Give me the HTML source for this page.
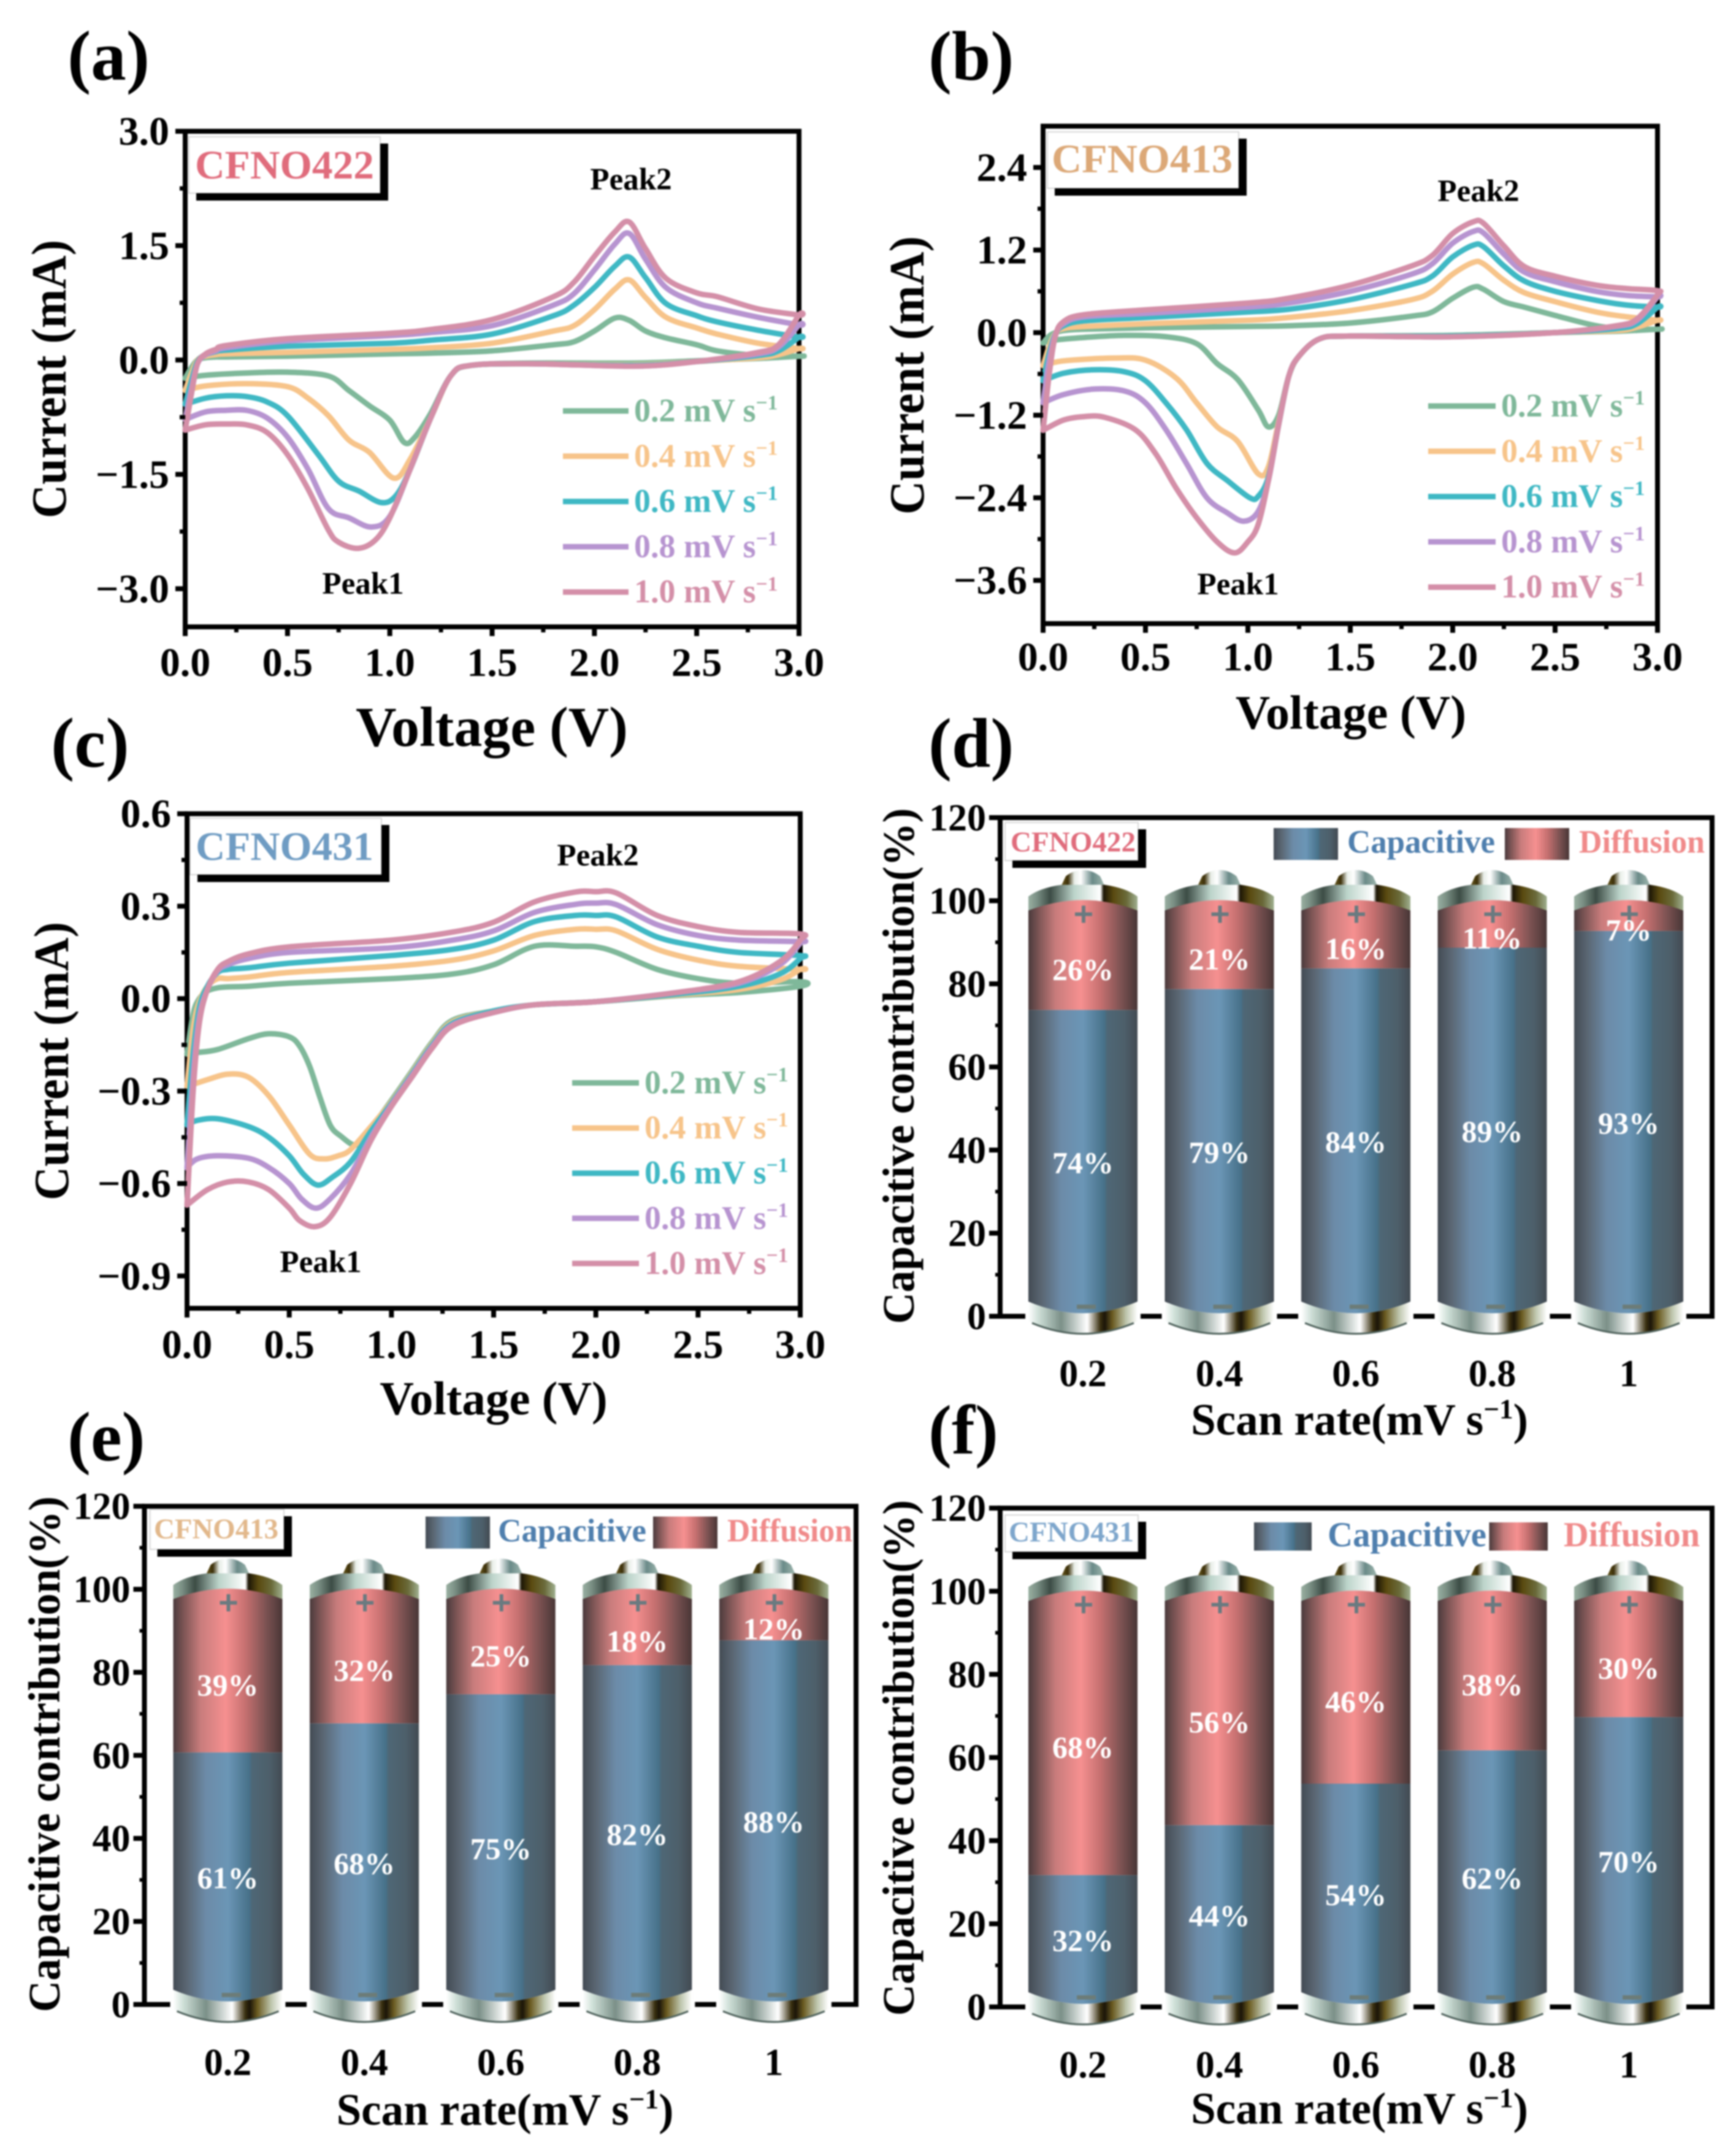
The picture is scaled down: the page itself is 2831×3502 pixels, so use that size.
<!DOCTYPE html>
<html lang="en">
<head>
<meta charset="utf-8">
<title>CFNO cyclic voltammetry and capacitive contribution</title>
<style>
html,body{margin:0;padding:0;background:#fff;}
svg{display:block;filter:blur(1.4px);}
text{font-family:"Liberation Serif",serif;font-weight:bold;}
</style>
</head>
<body>
<svg id="figure" xmlns="http://www.w3.org/2000/svg" width="2831" height="3502" viewBox="0 0 2831 3502">
<defs>
<linearGradient id="gBlue"><stop offset="0" stop-color="#434b54"/><stop offset=".12" stop-color="#5a6672"/><stop offset=".3" stop-color="#6c8ba8"/><stop offset=".5" stop-color="#6b96b6"/><stop offset=".7" stop-color="#467088"/><stop offset=".72" stop-color="#4e6776"/><stop offset=".88" stop-color="#4d5f6a"/><stop offset="1" stop-color="#424a52"/></linearGradient>
<linearGradient id="gRed"><stop offset="0" stop-color="#4a3a3c"/><stop offset=".1" stop-color="#7f5656"/><stop offset=".25" stop-color="#c87c7c"/><stop offset=".48" stop-color="#f69090"/><stop offset=".66" stop-color="#c67070"/><stop offset=".85" stop-color="#7c5252"/><stop offset="1" stop-color="#483636"/></linearGradient>
<linearGradient id="gCap"><stop offset="0" stop-color="#9ab0a2"/><stop offset=".08" stop-color="#7a8f84"/><stop offset=".2" stop-color="#3c4c45"/><stop offset=".42" stop-color="#bcd4ca"/><stop offset=".66" stop-color="#ffffff"/><stop offset=".69" stop-color="#1c1606"/><stop offset=".78" stop-color="#5a4a10"/><stop offset=".9" stop-color="#6a6a3a"/><stop offset="1" stop-color="#a0b090"/></linearGradient>
<linearGradient id="gNipple"><stop offset="0" stop-color="#6a5a20"/><stop offset=".15" stop-color="#3b2f08"/><stop offset=".3" stop-color="#e8eee8"/><stop offset=".45" stop-color="#ffffff"/><stop offset=".72" stop-color="#6a8a88"/><stop offset="1" stop-color="#a0b8b0"/></linearGradient>
<linearGradient id="gBase"><stop offset="0" stop-color="#ffffff"/><stop offset=".09" stop-color="#cfe0d8"/><stop offset=".3" stop-color="#7b9088"/><stop offset=".54" stop-color="#ffffff"/><stop offset=".66" stop-color="#3a3010"/><stop offset=".7" stop-color="#1a1408"/><stop offset=".77" stop-color="#6a5a20"/><stop offset=".9" stop-color="#c0c8b0"/><stop offset="1" stop-color="#ffffff"/></linearGradient>
</defs>
</svg>
<script>
// ---------- Shared chart labels ----------
const rateLabels = ['0.2', '0.4', '0.6', '0.8', '1.0'];
const lineColors = ['#7fb89a', '#f7c48a', '#3fb8c4', '#b794d0', '#d48fa8'];
const voltageTicks = [0, 0.5, 1, 1.5, 2, 2.5, 3];

// ---------- Panel (a) CFNO422 ----------
const currentTicksA = [3, 1.5, 0, -1.5, -3];
const anodicVoltsA = [0,.03,.06,.1,.15,.2,.5,1,1.2,1.5,1.8,1.9,2,2.1,2.17,2.25,2.35,2.5,2.6,2.8,3];
const anodicA02 = [-.24,-.1,0,.03,.04,.04,.05,.08,.09,.12,.2,.24,.38,.55,.52,.38,.29,.2,.12,.06,.05];
const anodicA04 = [-.4,-.18,0,.05,.07,.08,.1,.14,.16,.22,.38,.45,.66,.93,1.05,.82,.56,.42,.34,.22,.15];
const anodicA06 = [-.58,-.28,-.02,.07,.11,.13,.18,.22,.26,.34,.58,.72,.95,1.23,1.35,1.08,.74,.58,.5,.39,.3];
const anodicA08 = [-.78,-.38,-.05,.07,.12,.16,.25,.32,.36,.45,.72,.87,1.18,1.52,1.66,1.32,.95,.75,.68,.56,.46];
const anodicA10 = [-.92,-.45,-.05,.08,.14,.19,.28,.35,.4,.53,.83,1.02,1.36,1.68,1.81,1.46,1.07,.88,.83,.67,.59];
const cathodicVoltsA02 = [3,2.8,2.5,2.2,1.7,1.4,1.3,1.2,1.12,1.07,1,.9,.8,.7,.5,.3,.1,0];
const cathodicA02 = [.05,.02,-.01,-.04,-.04,-.07,-.2,-.7,-1.02,-1.08,-.79,-.6,-.4,-.21,-.16,-.17,-.2,-.24];
const cathodicVoltsA04 = [3,2.9,2.8,2.5,2.2,1.7,1.4,1.3,1.2,1.1,1.02,.9,.8,.7,.6,.5,.3,.1,0];
const cathodicA04 = [.15,.07,.03,-.02,-.06,-.05,-.07,-.2,-.76,-1.3,-1.55,-1.21,-1.05,-.73,-.5,-.35,-.31,-.34,-.4];
const cathodicVoltsA06 = [3,2.9,2.8,2.5,2.2,1.7,1.4,1.3,1.2,1.1,1.03,.958,.85,.75,.65,.5,.4,.3,.2,.1,0];
const cathodicA06 = [.3,.12,.06,-.02,-.07,-.05,-.07,-.2,-.76,-1.43,-1.78,-1.87,-1.72,-1.59,-1.24,-.73,-.55,-.48,-.47,-.5,-.58];
const cathodicVoltsA08 = [3,2.9,2.8,2.5,2.2,1.7,1.4,1.3,1.2,1.1,1,.91,.8,.7,.6,.5,.4,.3,.2,.1,0];
const cathodicA08 = [.46,.17,.08,-.02,-.08,-.05,-.07,-.2,-.76,-1.43,-2.05,-2.19,-2.07,-1.95,-1.43,-1.01,-.76,-.66,-.66,-.68,-.78];
const cathodicVoltsA10 = [3,2.9,2.8,2.5,2.2,1.7,1.4,1.3,1.2,1.1,1,.93,.845,.75,.7,.6,.5,.4,.3,.2,.1,0];
const cathodicA10 = [.59,.2,.1,-.02,-.08,-.05,-.07,-.2,-.76,-1.43,-2.07,-2.36,-2.47,-2.39,-2.23,-1.69,-1.24,-.95,-.85,-.84,-.85,-.92];

// ---------- Panel (b) CFNO413 ----------
const currentTicksB = [2.4, 1.2, 0, -1.2, -2.4, -3.6];
const anodicVoltsB = [0,.03,.06,.1,.2,.5,1,1.2,1.5,1.8,1.9,2,2.1,2.15,2.25,2.35,2.5,2.7,2.85,3];
const anodicB02 = [-.15,-.05,0,.03,.05,.07,.09,.1,.14,.24,.3,.5,.66,.63,.45,.37,.25,.1,.05,.05];
const anodicB04 = [-.48,-.2,-.01,.06,.09,.13,.18,.22,.32,.48,.6,.85,1.02,1,.76,.58,.45,.3,.23,.18];
const anodicB06 = [-.7,-.3,-.02,.1,.17,.22,.3,.34,.48,.7,.82,1.1,1.27,1.25,.97,.75,.6,.47,.4,.37];
const anodicB08 = [-1.02,-.4,-.03,.13,.23,.28,.37,.43,.6,.85,1,1.3,1.47,1.45,1.14,.88,.74,.6,.54,.52];
const anodicB10 = [-1.42,-.6,-.05,.16,.26,.33,.43,.5,.69,.97,1.12,1.44,1.61,1.59,1.26,.96,.82,.69,.64,.61];
const cathodicVoltsB02 = [3,2.8,2.5,2,1.5,1.35,1.25,1.2,1.15,1.1,1.05,.95,.85,.75,.6,.4,.2,.05,0];
const cathodicB02 = [.05,.02,0,-.04,-.05,-.09,-.34,-.63,-1.2,-1.37,-1.12,-.68,-.45,-.16,-.06,-.04,-.07,-.11,-.15];
const cathodicVoltsB04 = [3,2.9,2.8,2.5,2,1.5,1.35,1.25,1.2,1.15,1.1,1.05,.95,.85,.75,.65,.5,.35,.1,0];
const cathodicB04 = [.18,.08,.03,0,-.05,-.05,-.09,-.34,-.63,-1.3,-1.95,-2.05,-1.58,-1.37,-1.02,-.66,-.4,-.37,-.41,-.48];
const cathodicVoltsB06 = [3,2.9,2.8,2.5,2,1.5,1.35,1.25,1.2,1.15,1.1,1.05,1.01,.9,.8,.7,.6,.5,.4,.25,.1,0];
const cathodicB06 = [.37,.13,.06,0,-.05,-.05,-.09,-.34,-.63,-1.34,-2.1,-2.38,-2.4,-2.15,-1.9,-1.41,-1.02,-.7,-.57,-.54,-.59,-.7];
const cathodicVoltsB08 = [3,2.9,2.8,2.5,2,1.5,1.35,1.25,1.2,1.15,1.1,1.05,.98,.9,.8,.7,.6,.5,.4,.25,.1,0];
const cathodicB08 = [.52,.18,.09,0,-.06,-.05,-.09,-.34,-.63,-1.34,-2.15,-2.6,-2.74,-2.62,-2.4,-1.9,-1.41,-1.02,-.85,-.82,-.9,-1.02];
const cathodicVoltsB10 = [3,2.9,2.8,2.5,2,1.5,1.35,1.25,1.2,1.15,1.1,1.05,1,.935,.85,.75,.65,.55,.45,.3,.2,.1,0];
const cathodicB10 = [.55,.2,.1,0,-.06,-.05,-.09,-.34,-.63,-1.34,-2.15,-2.79,-3.04,-3.2,-3.04,-2.69,-2.26,-1.76,-1.41,-1.23,-1.22,-1.27,-1.42];

// ---------- Panel (c) CFNO431 ----------
const currentTicksC = [.6, .3, 0, -.3, -.6, -.9];
const anodicVoltsC = [0,.03,.06,.1,.15,.2,.3,.5,1,1.3,1.5,1.7,1.9,2,2.1,2.3,2.5,2.7,3];
const anodicC02 = [-.18,-.05,0,.025,.035,.038,.04,.05,.065,.08,.11,.17,.17,.168,.15,.095,.065,.05,.055];
const anodicC04 = [-.285,-.1,-.01,.04,.065,.065,.07,.085,.105,.125,.155,.205,.225,.225,.22,.16,.125,.105,.095];
const anodicC06 = [-.41,-.18,-.03,.04,.085,.095,.1,.115,.14,.16,.19,.25,.27,.27,.265,.2,.17,.15,.14];
const anodicC08 = [-.55,-.25,-.06,.03,.09,.11,.13,.15,.165,.19,.22,.28,.306,.31,.305,.24,.205,.19,.185];
const anodicC10 = [-.67,-.3,-.08,.03,.095,.12,.145,.168,.19,.216,.248,.314,.346,.347,.343,.27,.234,.215,.21];
const cathodicVoltsC02 = [3,2.7,2.4,2,1.7,1.5,1.3,1.2,1.1,1,.9,.83,.75,.7,.65,.6,.55,.5,.4,.3,.15,.05,0];
const cathodicC02 = [.04,.02,.01,-.01,-.02,-.04,-.07,-.14,-.235,-.33,-.42,-.475,-.445,-.41,-.32,-.22,-.153,-.124,-.114,-.13,-.165,-.175,-.18];
const cathodicVoltsC04 = [3,2.9,2.7,2.4,2,1.7,1.5,1.3,1.2,1.1,1,.9,.8,.74,.67,.6,.5,.4,.3,.2,.1,0];
const cathodicC04 = [.095,.06,.03,.012,-.01,-.02,-.04,-.075,-.145,-.24,-.335,-.415,-.49,-.51,-.52,-.505,-.41,-.315,-.255,-.245,-.263,-.285];
const cathodicVoltsC06 = [3,2.9,2.7,2.4,2,1.7,1.5,1.3,1.2,1.1,1,.9,.8,.71,.64,.57,.5,.4,.3,.15,.05,0];
const cathodicC06 = [.13,.08,.04,.015,-.01,-.02,-.04,-.08,-.15,-.245,-.34,-.43,-.53,-.58,-.605,-.57,-.51,-.45,-.415,-.39,-.395,-.41];
const cathodicVoltsC08 = [3,2.9,2.7,2.4,2,1.7,1.5,1.3,1.2,1.1,1,.9,.8,.7,.63,.56,.5,.4,.3,.15,.05,0];
const cathodicC08 = [.18,.11,.05,.02,-.01,-.02,-.045,-.085,-.155,-.25,-.345,-.45,-.57,-.65,-.68,-.65,-.6,-.548,-.518,-.51,-.52,-.548];
const cathodicVoltsC10 = [3,2.9,2.7,2.4,2,1.7,1.5,1.3,1.2,1.1,1,.9,.8,.7,.625,.55,.5,.4,.3,.2,.1,0];
const cathodicC10 = [.19,.12,.055,.02,-.01,-.02,-.045,-.088,-.16,-.255,-.35,-.46,-.6,-.71,-.74,-.72,-.68,-.62,-.595,-.595,-.62,-.67];

// ---------- Panels (d)(e)(f) battery bars ----------
const scanRates = ['0.2', '0.4', '0.6', '0.8', '1'];
const contributionTicks = [120, 100, 80, 60, 40, 20, 0];
const capacitiveD = [74, 79, 84, 89, 93];
const diffusionD = [26, 21, 16, 11, 7];
const capacitiveE = [61, 68, 75, 82, 88];
const diffusionE = [39, 32, 25, 18, 12];
const capacitiveF = [32, 44, 54, 62, 70];
const diffusionF = [68, 56, 46, 38, 30];

const NS = 'http://www.w3.org/2000/svg';
const root = document.getElementById('figure');

function make(tag, attrs, parent, content) {
  const node = document.createElementNS(NS, tag);
  for (const k in attrs) node.setAttribute(k, attrs[k]);
  if (content !== undefined) node.textContent = content;
  parent.appendChild(node);
  return node;
}
function group(parent) {
  return make('g', {}, parent);
}
function fmtTick(v) {
  const s = Math.abs(v).toFixed(1);
  return v < 0 ? '\u2212' + s : s;
}
function smoothPath(points) {
  let d = 'M' + points[0][0].toFixed(1) + ' ' + points[0][1].toFixed(1);
  for (let i = 0; i < points.length - 1; i++) {
    const p0 = points[Math.max(i - 1, 0)], p1 = points[i], p2 = points[i + 1], p3 = points[Math.min(i + 2, points.length - 1)];
    const t = 0.167;
    const c1x = p1[0] + (p2[0] - p0[0]) * t, c1y = p1[1] + (p2[1] - p0[1]) * t;
    const c2x = p2[0] - (p3[0] - p1[0]) * t, c2y = p2[1] - (p3[1] - p1[1]) * t;
    d += 'C' + c1x.toFixed(1) + ' ' + c1y.toFixed(1) + ' ' + c2x.toFixed(1) + ' ' + c2y.toFixed(1) + ' ' + p2[0].toFixed(1) + ' ' + p2[1].toFixed(1);
  }
  return d;
}

// Text with a trailing "s^-1" superscript
function rateText(parent, x, y, size, fill, anchor, prefix, closer) {
  const t = make('text', { x: x, y: y, 'font-size': size, fill: fill, 'text-anchor': anchor }, parent);
  make('tspan', {}, t, prefix + 's');
  make('tspan', { dy: -size * 0.36, 'font-size': size * 0.62 }, t, '\u22121');
  if (closer) make('tspan', { dy: size * 0.36 }, t, closer);
  return t;
}

function panelLetter(letter, x, y, size) {
  const t = make('text', { x: x, y: y, 'font-size': size, fill: '#000' }, root, '(' + letter + ')');
  
  
}

function sampleBadge(g, b) {
  const white = make('rect', { x: b.x0, y: b.y0, width: b.x1 - b.x0, height: b.y1 - b.y0, fill: '#fff', stroke: '#d8d8d8', 'stroke-width': 2 }, g);
  
  
  const sh1 = make('rect', { x: b.x1, y: b.y0 + 11, width: 13, height: b.y1 - b.y0, fill: '#000' }, g);
  
  
  const sh2 = make('rect', { x: b.x0 + 12, y: b.y1, width: b.x1 - b.x0 + 1, height: 12, fill: '#000' }, g);
  
  
  const txt = make('text', { x: b.tx, y: b.ty, 'font-size': b.size, fill: b.color, textLength: b.tw, lengthAdjust: 'spacingAndGlyphs' }, g, b.label);
  
  
}

// ---------- CV panel ----------
function drawCV(p) {
  const g = group(root);
  
  
  const xAxis = v => p.left + (v / 3) * (p.right - p.left);
  const yAxis = i => p.top + (p.yMax - i) / (p.yMax - p.yMin) * (p.bottom - p.top);

  const frame = make('rect', { x: p.left, y: p.top, width: p.right - p.left, height: p.bottom - p.top, fill: '#fff', stroke: '#000', 'stroke-width': 8 }, g);
  
  

  // curves
  p.series.forEach((s, idx) => {
    const pts = [];
    s.upI.forEach((c, i) => pts.push([xAxis(p.upV[i]), yAxis(c)]));
    s.downI.forEach((c, i) => pts.push([xAxis(s.downV[i]), yAxis(c)]));
    const path = make('path', { d: smoothPath(pts), fill: 'none', stroke: lineColors[idx], 'stroke-width': 9, 'stroke-linejoin': 'round', 'stroke-linecap': 'round' }, g);
    
    
  });

  // x ticks
  voltageTicks.forEach(v => {
    const tk = make('line', { x1: xAxis(v), x2: xAxis(v), y1: p.bottom, y2: p.bottom + 15, stroke: '#000', 'stroke-width': 8 }, g);
    
    
    const lb = make('text', { x: xAxis(v), y: p.xTickY, 'font-size': 66, 'text-anchor': 'middle', fill: '#000' }, g, v.toFixed(1));
    
    
    if (v < 3) {
      const mn = make('line', { x1: xAxis(v + .25), x2: xAxis(v + .25), y1: p.bottom, y2: p.bottom + 9, stroke: '#000', 'stroke-width': 7 }, g);
      
      
    }
  });

  // y ticks
  p.yTicks.forEach((v, i) => {
    const tk = make('line', { x1: p.left - 16, x2: p.left, y1: yAxis(v), y2: yAxis(v), stroke: '#000', 'stroke-width': 8 }, g);
    
    
    const lb = make('text', { x: p.left - 26, y: yAxis(v) + 22, 'font-size': 66, 'text-anchor': 'end', fill: '#000' }, g, fmtTick(v));
    
    
    if (i < p.yTicks.length - 1) {
      const m = (v + p.yTicks[i + 1]) / 2;
      const mn = make('line', { x1: p.left - 9, x2: p.left, y1: yAxis(m), y2: yAxis(m), stroke: '#000', 'stroke-width': 7 }, g);
      
      
    }
  });

  const xt = make('text', { x: p.xTitle[0], y: p.xTitle[1], 'font-size': p.xTitle[2], 'text-anchor': 'middle', fill: '#000' }, g, 'Voltage (V)');
  
  
  const yt = make('text', { transform: 'translate(' + p.yTitle[0] + ' ' + p.yTitle[1] + ') rotate(-90)', 'font-size': p.yTitle[2], 'text-anchor': 'middle', fill: '#000', textLength: 454, lengthAdjust: 'spacingAndGlyphs' }, g, 'Current (mA)');
  
  

  const pk1 = make('text', { x: p.peak1[0], y: p.peak1[1], 'font-size': 51, 'text-anchor': 'middle', fill: '#000' }, g, 'Peak1');
  
  
  const pk2 = make('text', { x: p.peak2[0], y: p.peak2[1], 'font-size': 51, 'text-anchor': 'middle', fill: '#000' }, g, 'Peak2');
  
  

  sampleBadge(g, p.badge);

  // legend
  rateLabels.forEach((r, i) => {
    const ly = p.legend.y0 + i * p.legend.dy;
    const ln = make('line', { x1: p.legend.x0, x2: p.legend.x1, y1: ly, y2: ly, stroke: lineColors[i], 'stroke-width': 9 }, g);
    
    
    const lt = rateText(g, p.legend.tx, ly + 17, 54, lineColors[i], 'start', r + ' mV ', '');
    
    
  });
}

// ---------- Battery ----------
function drawBattery(g, cx, yV, capVal, diffVal) {
  const y0 = yV(0), y100 = yV(100), yb = yV(capVal) + 2;
  const hw = 89;
  const bat = group(g);
  
  

  const halo = make('rect', { x: cx - 94, y: y0 - 8, width: 188, height: 16, fill: '#fff' }, bat);
  
  

  const nipple = make('path', { d: 'M' + (cx - 35) + ' ' + (y100 - 25) + 'L' + (cx - 28) + ' ' + (y100 - 40) + 'Q' + (cx - 15) + ' ' + (y100 - 50) + ' ' + cx + ' ' + (y100 - 50) + 'Q' + (cx + 15) + ' ' + (y100 - 50) + ' ' + (cx + 28) + ' ' + (y100 - 40) + 'L' + (cx + 35) + ' ' + (y100 - 25) + 'Z', fill: 'url(#gNipple)' }, bat);
  
  

  const cap = make('path', { d: 'M' + (cx - hw) + ' ' + (y100 + 18) + 'L' + (cx - hw) + ' ' + (y100 - 7) + 'Q' + (cx - 70) + ' ' + (y100 - 21) + ' ' + (cx - 35) + ' ' + (y100 - 26) + 'L' + (cx + 35) + ' ' + (y100 - 26) + 'Q' + (cx + 70) + ' ' + (y100 - 21) + ' ' + (cx + hw) + ' ' + (y100 - 7) + 'L' + (cx + hw) + ' ' + (y100 + 18) + 'Z', fill: 'url(#gCap)' }, bat);
  
  

  const red = make('path', { d: 'M' + (cx - hw) + ' ' + (y100 + 16) + 'Q' + cx + ' ' + (y100 - 18) + ' ' + (cx + hw) + ' ' + (y100 + 16) + 'L' + (cx + hw) + ' ' + yb + 'L' + (cx - hw) + ' ' + yb + 'Z', fill: 'url(#gRed)' }, bat);
  
  

  const base = make('path', { d: 'M' + (cx - hw) + ' ' + (y0 - 24) + 'Q' + cx + ' ' + (y0 + 14) + ' ' + (cx + hw) + ' ' + (y0 - 24) + 'L' + (cx + hw) + ' ' + (y0 + 8) + 'Q' + cx + ' ' + (y0 + 46) + ' ' + (cx - hw) + ' ' + (y0 + 8) + 'Z', fill: 'url(#gBase)' }, bat);
  
  

  const baseEdge = make('path', { d: 'M' + (cx - hw + 6) + ' ' + (y0 + 11) + 'Q' + cx + ' ' + (y0 + 46) + ' ' + (cx + hw - 6) + ' ' + (y0 + 11), fill: 'none', stroke: '#4f625c', 'stroke-width': 3 }, bat);
  
  

  const blue = make('path', { d: 'M' + (cx - hw) + ' ' + yb + 'L' + (cx + hw) + ' ' + yb + 'L' + (cx + hw) + ' ' + (y0 - 24) + 'Q' + cx + ' ' + (y0 + 14) + ' ' + (cx - hw) + ' ' + (y0 - 24) + 'Z', fill: 'url(#gBlue)' }, bat);
  
  

  const plus = make('path', { d: 'M' + (cx - 13) + ' ' + (y100 + 22) + 'H' + (cx + 15) + 'M' + (cx + 1) + ' ' + (y100 + 8) + 'V' + (y100 + 36), stroke: '#6a7a80', 'stroke-width': 6, fill: 'none' }, bat);
  
  
  const minus = make('rect', { x: cx - 10, y: y0 - 19, width: 31, height: 7, fill: '#6c7c78' }, bat);
  
  

  const capT = make('text', { x: cx, y: yV(capVal / 2) + 17, 'font-size': 50, 'text-anchor': 'middle', fill: '#fff' }, bat, capVal + '%');
  
  
  const diffT = make('text', { x: cx, y: yV(capVal + diffVal / 2 - 3.5) + 17, 'font-size': 50, 'text-anchor': 'middle', fill: '#fff' }, bat, diffVal + '%');
  
  
}

function drawBars(p) {
  const g = group(root);
  
  
  const yV = v => p.y0 - v * (p.y0 - p.y120) / 120;
  const xI = i => p.cx0 + i * p.step;

  const frame = make('path', { d: 'M' + p.left + ' ' + p.y0 + 'V' + p.y120 + 'H' + p.right + 'V' + p.y0 + 'H' + (p.left - 18), fill: 'none', stroke: '#000', 'stroke-width': 8 }, g);
  
  

  contributionTicks.forEach((v, i) => {
    const tk = make('line', { x1: p.left - 18, x2: p.left, y1: yV(v), y2: yV(v), stroke: '#000', 'stroke-width': 8 }, g);
    
    
    const lb = make('text', { x: p.left - 23, y: yV(v) + 21, 'font-size': 62, 'text-anchor': 'end', fill: '#000' }, g, String(v));
    
    
    if (v > 0) {
      const mn = make('line', { x1: p.left - 8, x2: p.left, y1: yV(v - 10), y2: yV(v - 10), stroke: '#000', 'stroke-width': 6 }, g);
      
      
    }
  });

  sampleBadge(g, p.badge);

  p.capacitive.forEach((c, i) => {
    drawBattery(g, xI(i), yV, c, p.diffusion[i]);
    const lb = make('text', { x: xI(i), y: p.xTickY, 'font-size': 62, 'text-anchor': 'middle', fill: '#000' }, g, scanRates[i]);
    
    
  });

  const xt = rateText(g, p.xTitle[0], p.xTitle[1], 73, '#000', 'middle', 'Scan rate(mV ', ')');
  
  
  const yt = make('text', { transform: 'translate(' + p.yTitle[0] + ' ' + p.yTitle[1] + ') rotate(-90)', 'font-size': 73, 'text-anchor': 'middle', fill: '#000', textLength: 841, lengthAdjust: 'spacingAndGlyphs' }, g, 'Capacitive contribution(%)');
  
  

  const L = p.legend;
  const s1 = make('rect', { x: L.blue[0], y: L.y0, width: L.blue[1] - L.blue[0], height: L.y1 - L.y0, fill: 'url(#gBlue)' }, g);
  
  
  const t1 = make('text', { x: L.capText[0], y: L.base, 'font-size': L.size, fill: '#4f7fae', textLength: L.capText[1], lengthAdjust: 'spacingAndGlyphs' }, g, 'Capacitive');
  
  
  const s2 = make('rect', { x: L.red[0], y: L.y0, width: L.red[1] - L.red[0], height: L.y1 - L.y0, fill: 'url(#gRed)' }, g);
  
  
  const t2 = make('text', { x: L.difText[0], y: L.base, 'font-size': L.size, fill: '#f08a8a', textLength: L.difText[1], lengthAdjust: 'spacingAndGlyphs' }, g, 'Diffusion');
  
  
}

// ---------- Compose ----------
panelLetter('a', 110, 130, 115);
panelLetter('b', 1514, 130, 114);
panelLetter('c', 83, 1250, 115);
panelLetter('d', 1514, 1250, 114);
panelLetter('e', 110, 2381, 114);
panelLetter('f', 1514, 2370, 114);

drawCV({
  id: 'a', left: 302, right: 1303, top: 214, bottom: 1022, yMax: 3, yMin: -3.5, yTicks: currentTicksA,
  xTickY: 1102, xTitle: [802, 1216, 92], yTitle: [107, 618, 80], peak1: [592, 968], peak2: [1029, 309],
  badge: { x0: 308, x1: 620, y0: 223, y1: 315, tx: 318, ty: 291, tw: 292, size: 66, color: '#e06c7c', label: 'CFNO422' },
  legend: { x0: 918, x1: 1025, y0: 670, dy: 73.8, tx: 1034 },
  upV: anodicVoltsA,
  series: [
    { upI: anodicA02, downV: cathodicVoltsA02, downI: cathodicA02 },
    { upI: anodicA04, downV: cathodicVoltsA04, downI: cathodicA04 },
    { upI: anodicA06, downV: cathodicVoltsA06, downI: cathodicA06 },
    { upI: anodicA08, downV: cathodicVoltsA08, downI: cathodicA08 },
    { upI: anodicA10, downV: cathodicVoltsA10, downI: cathodicA10 }
  ]
});
drawCV({
  id: 'b', left: 1701, right: 2703, top: 205.7, bottom: 1016.7, yMax: 3, yMin: -4.228, yTicks: currentTicksB,
  xTickY: 1093, xTitle: [2203, 1188, 78], yTitle: [1506, 612, 80], peak1: [2019, 969], peak2: [2411, 328],
  badge: { x0: 1708, x1: 2020, y0: 215, y1: 307, tx: 1715, ty: 281, tw: 295, size: 66, color: '#dca877', label: 'CFNO413' },
  legend: { x0: 2329, x1: 2439, y0: 662, dy: 73.8, tx: 2448 },
  upV: anodicVoltsB,
  series: [
    { upI: anodicB02, downV: cathodicVoltsB02, downI: cathodicB02 },
    { upI: anodicB04, downV: cathodicVoltsB04, downI: cathodicB04 },
    { upI: anodicB06, downV: cathodicVoltsB06, downI: cathodicB06 },
    { upI: anodicB08, downV: cathodicVoltsB08, downI: cathodicB08 },
    { upI: anodicB10, downV: cathodicVoltsB10, downI: cathodicB10 }
  ]
});
drawCV({
  id: 'c', left: 305, right: 1305, top: 1326.7, bottom: 2133, yMax: .6, yMin: -1.005, yTicks: currentTicksC,
  xTickY: 2214, xTitle: [805, 2306, 77], yTitle: [111, 1730, 80], peak1: [523, 2074], peak2: [975, 1411],
  badge: { x0: 310, x1: 622, y0: 1334, y1: 1426, tx: 319, ty: 1402, tw: 290, size: 66, color: '#6f9cc3', label: 'CFNO431' },
  legend: { x0: 933, x1: 1042, y0: 1765.5, dy: 73.6, tx: 1051 },
  upV: anodicVoltsC,
  series: [
    { upI: anodicC02, downV: cathodicVoltsC02, downI: cathodicC02 },
    { upI: anodicC04, downV: cathodicVoltsC04, downI: cathodicC04 },
    { upI: anodicC06, downV: cathodicVoltsC06, downI: cathodicC06 },
    { upI: anodicC08, downV: cathodicVoltsC08, downI: cathodicC08 },
    { upI: anodicC10, downV: cathodicVoltsC10, downI: cathodicC10 }
  ]
});
drawBars({
  id: 'd', left: 1631, right: 2792, y120: 1333, y0: 2146, cx0: 1766, step: 222.5, xTickY: 2260,
  capacitive: capacitiveD, diffusion: diffusionD, xTitle: [2217, 2339], yTitle: [1490, 1738],
  badge: { x0: 1639, x1: 1856, y0: 1341, y1: 1403, tx: 1648, ty: 1388, tw: 204, size: 47, color: '#e06c7c', label: 'CFNO422' },
  legend: { blue: [2077, 2182], red: [2454, 2559], y0: 1350, y1: 1402, base: 1390, size: 53, capText: [2197, 241], difText: [2575, 205] }
});
drawBars({
  id: 'e', left: 235.5, right: 1396, y120: 2455.7, y0: 3268, cx0: 371.5, step: 222.6, xTickY: 3383,
  capacitive: capacitiveE, diffusion: diffusionE, xTitle: [823.5, 3464], yTitle: [97, 2860],
  badge: { x0: 244.6, x1: 463, y0: 2461, y1: 2526, tx: 251, ty: 2508, tw: 203, size: 47, color: '#e2b88b', label: 'CFNO413' },
  legend: { blue: [694, 799], red: [1065, 1170], y0: 2472.5, y1: 2524.7, base: 2513, size: 53, capText: [812, 242], difText: [1186, 204] }
});
drawBars({
  id: 'f', left: 1631, right: 2792, y120: 2458.7, y0: 3272, cx0: 1766, step: 222.5, xTickY: 3387,
  capacitive: capacitiveF, diffusion: diffusionF, xTitle: [2217, 3462], yTitle: [1490, 2866],
  badge: { x0: 1639, x1: 1856, y0: 2470, y1: 2530, tx: 1645, ty: 2513, tw: 204, size: 47, color: '#7ea6cc', label: 'CFNO431' },
  legend: { blue: [2045, 2139], red: [2428.5, 2524], y0: 2482, y1: 2528, base: 2521, size: 57, capText: [2165, 259], difText: [2550, 222] }
});
</script>
</body>
</html>
